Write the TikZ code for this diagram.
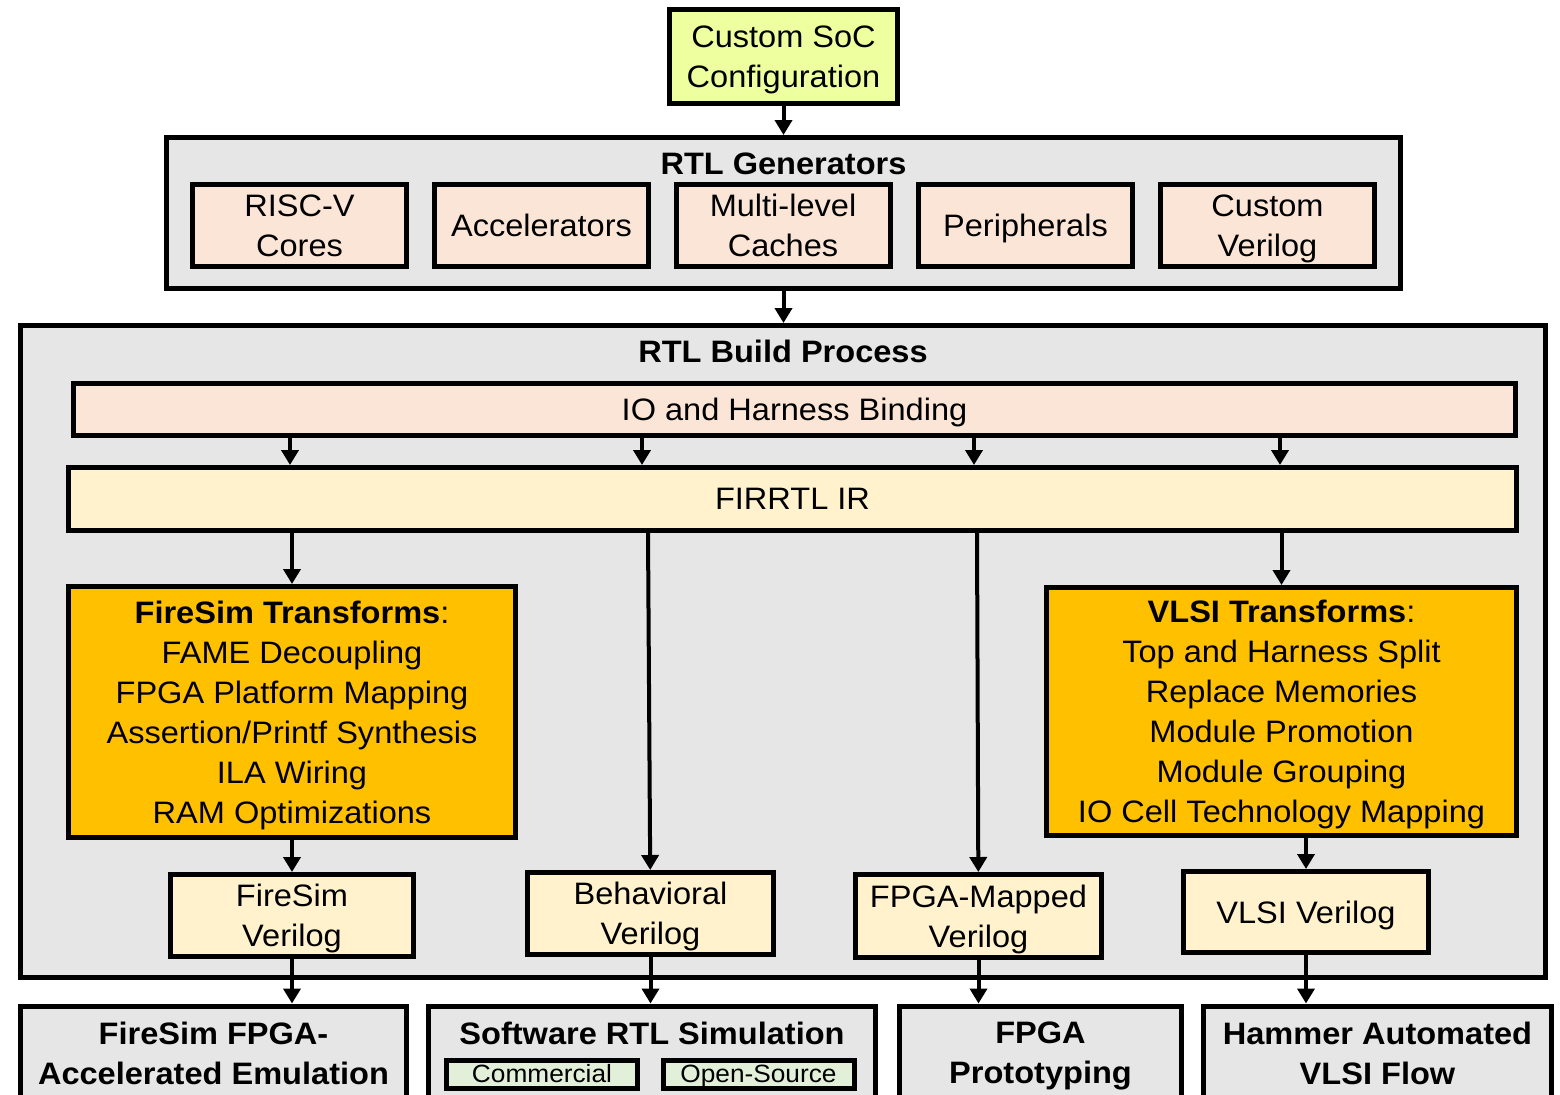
\documentclass[tikz,border=0pt]{standalone}
\usepackage{fontspec}
\setmainfont[FakeStretch=1.05]{Liberation Sans}
\usetikzlibrary{arrows.meta,calc,positioning}
\definecolor{socgreen}{HTML}{EEFFA0}
\definecolor{panelgray}{HTML}{E6E6E6}
\definecolor{peach}{HTML}{FBE5D6}
\definecolor{cream}{HTML}{FFF2CC}
\definecolor{amber}{HTML}{FFC000}
\definecolor{mint}{HTML}{E2F0D9}

\begin{document}
\begin{tikzpicture}[x=0.5pt,y=-0.5pt,align=center,font=\fontsize{15.5}{20}\selectfont]
\tikzstyle{box}=[draw=black,line width=2.5pt,inner sep=0pt,text depth=0pt]
\tikzstyle{panel}=[box,fill=panelgray]
\tikzstyle{gen}=[box,fill=peach,minimum width=107pt,minimum height=41pt]
\tikzstyle{xform}=[box,fill=amber]
\tikzstyle{vout}=[box,fill=cream,minimum height=41pt]
\tikzstyle{target}=[panel,minimum height=47pt,font=\fontsize{15.5}{20}\selectfont\bfseries]
\tikzstyle{simkind}=[box,fill=mint,minimum width=95.5pt,minimum height=14pt,text height=9.6pt,text depth=1.6pt,font=\fontsize{12.5}{14}\selectfont]
\tikzstyle{title}=[font=\fontsize{15.5}{20}\selectfont\bfseries]
\tikzstyle{flow}=[-{Triangle[length=7.5pt,width=8.5pt]},line width=2pt]

\useasboundingbox (0,0) rectangle (1560,1094);
\clip (0,0) rectangle (1560,1094);

% top: configuration and generators
\node[box,fill=socgreen,minimum width=114pt,minimum height=47pt] (soc) at (783.5,56.5) {Custom SoC\\Configuration};
\node[panel,minimum width=617pt,minimum height=75.5pt] (rtlgen) at (783.5,213) {};
\node[title] (gentitle) at (783.5,164) {RTL Generators};
\node[gen] (cores) at (299.5,225.5) {RISC-V\\Cores};
\node[gen] (accel) at (541.5,225.5) {Accelerators};
\node[gen] (cache) at (783,225.5) {Multi-level\\Caches};
\node[gen] (periph) at (1025.5,225.5) {Peripherals};
\node[gen] (custom) at (1267.5,225.5) {Custom\\Verilog};

% build process
\node[panel,minimum width=762.5pt,minimum height=326pt] (build) at (783,651.5) {};
\node[title] (buildtitle) at (783,351) {RTL Build Process};
\node[box,fill=peach,minimum width=721pt,minimum height=26pt] (io) at (794.5,409.5) {IO and Harness Binding};
\node[box,fill=cream,minimum width=724pt,minimum height=31.5pt] (firrtl) at (792.5,499) {FIRRTL IR};
\node[xform,minimum width=223.5pt,minimum height=125.5pt] (fst) at (292,712) {\textbf{FireSim Transforms}:\\FAME Decoupling\\FPGA Platform Mapping\\Assertion/Printf Synthesis\\ILA Wiring\\RAM Optimizations};
\node[xform,minimum width=235pt,minimum height=124pt] (vlsit) at (1281.5,711.5) {\textbf{VLSI Transforms}:\\Top and Harness Split\\Replace Memories\\Module Promotion\\Module Grouping\\IO Cell Technology Mapping};
\node[vout,minimum width=121.5pt] (fsv) at (292,915.5) {FireSim\\Verilog};
\node[vout,minimum width=123pt] (behav) at (650.5,913.5) {Behavioral\\Verilog};
\node[vout,minimum width=123pt,minimum height=41.5pt] (fpgav) at (978.5,916) {FPGA-Mapped\\Verilog};
\node[vout,minimum width=122.5pt,minimum height=40.5pt] (vlsiv) at (1306,912) {VLSI Verilog};

% targets
\node[target,minimum width=193pt] (emu) at (213.5,1053) {FireSim FPGA-\\Accelerated Emulation};
\node[target,minimum width=223.5pt] (swsim) at (652,1053) {Software RTL Simulation\\\phantom{Commercial}};
\node[target,minimum width=141pt] (proto) at (1040.5,1053) {FPGA\\Prototyping};
\node[target,minimum width=174pt] (hammer) at (1377.5,1053) {Hammer Automated\\VLSI Flow};
\node[simkind] (comm) at (542,1074.5) {Commercial};
\node[simkind] (open) at (758.5,1074.5) {Open-Source};

\path
  (soc) edge [flow] (rtlgen)
  (rtlgen) edge [flow] (build.north -| rtlgen.south)
  (290,0 |- io.south) edge [flow] (290,0 |- firrtl.north)
  (642,0 |- io.south) edge [flow] (642,0 |- firrtl.north)
  (974,0 |- io.south) edge [flow] (974,0 |- firrtl.north)
  (1280,0 |- io.south) edge [flow] (1280,0 |- firrtl.north)
  (fst.north |- firrtl.south) edge [flow] (fst)
  (648,0 |- firrtl.south) edge [flow] (behav)
  (977,0 |- firrtl.south) edge [flow] (fpgav)
  (vlsit.north |- firrtl.south) edge [flow] (vlsit)
  (fst) edge [flow] (fsv)
  (vlsiv.north |- vlsit.south) edge [flow] (vlsiv)
  (fsv) edge [flow] (fsv.south |- emu.north)
  (behav) edge [flow] (behav.south |- swsim.north)
  (fpgav) edge [flow] (fpgav.south |- proto.north)
  (vlsiv) edge [flow] (vlsiv.south |- hammer.north);
\end{tikzpicture}
\end{document}
